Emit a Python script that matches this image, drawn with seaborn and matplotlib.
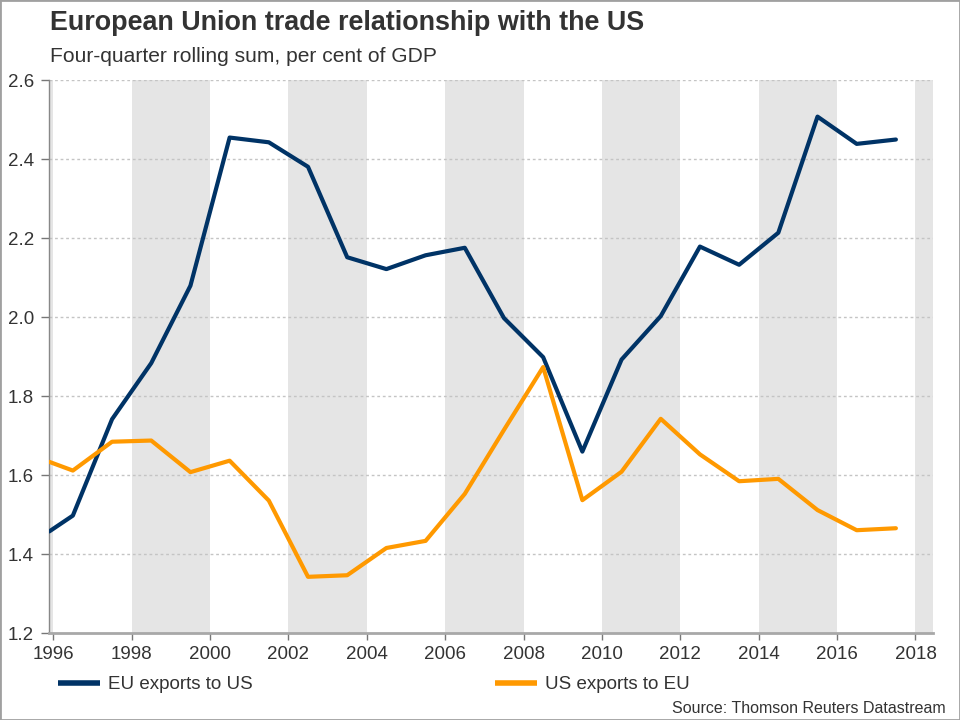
import numpy as np
import pandas as pd
import matplotlib
matplotlib.use("Agg")
import matplotlib.pyplot as plt
import seaborn as sns
from matplotlib.patches import Rectangle

# data (points sit mid-year, first one at the axis start)
years = [1995.9, 1996.5, 1997.5, 1998.5, 1999.5, 2000.5, 2001.5, 2002.5, 2003.5,
         2004.5, 2005.5, 2006.5, 2007.5, 2008.5, 2009.5, 2010.5, 2011.5, 2012.5,
         2013.5, 2014.5, 2015.5, 2016.5, 2017.5]
eu_to_us = [1.458, 1.498, 1.742, 1.884, 2.080, 2.455, 2.443, 2.381, 2.152,
            2.122, 2.157, 2.176, 1.998, 1.899, 1.660, 1.893, 2.003, 2.179,
            2.133, 2.214, 2.508, 2.439, 2.450]
us_to_eu = [1.634, 1.612, 1.685, 1.688, 1.608, 1.637, 1.536, 1.343, 1.347,
            1.416, 1.434, 1.553, 1.715, 1.874, 1.537, 1.609, 1.743, 1.653,
            1.585, 1.591, 1.512, 1.461, 1.466]
series_names = ["EU exports to US", "US exports to EU"]
band_starts = [1994, 1998, 2002, 2006, 2010, 2014, 2018]
x_ticks = [1996, 1998, 2000, 2002, 2004, 2006, 2008, 2010, 2012, 2014, 2016, 2018]
y_ticks = [1.2, 1.4, 1.6, 1.8, 2.0, 2.2, 2.4, 2.6]

df = pd.concat([
    pd.DataFrame({"year": years, "value": eu_to_us, "series": series_names[0]}),
    pd.DataFrame({"year": years, "value": us_to_eu, "series": series_names[1]}),
])

sns.set_theme(style="white")
plt.rcParams["font.family"] = ["Liberation Sans", "DejaVu Sans"]
text_col = "#333333"

fig = plt.figure(figsize=(9.6, 7.2), dpi=100)
ax = fig.add_axes([0.0514, 0.1204, 0.9202, 0.7681])

# shaded two-year bands
for s in band_starts:
    ax.axvspan(s, s + 2, color="#e5e5e5", lw=0, zorder=0)

for y in y_ticks[1:]:
    ax.axhline(y, color="#c4c4c4", lw=1, ls=(0, (2, 2)), zorder=1)

palette = {series_names[0]: "#003366", series_names[1]: "#ff9900"}
sns.lineplot(data=df, x="year", y="value", hue="series", palette=palette,
             lw=3, ax=ax, legend=False, zorder=3)

ax.set_xlim(1995.9, 2018.44)
ax.set_ylim(1.2, 2.6)
ax.set_xticks(x_ticks)
ax.set_yticks(y_ticks)
ax.set_yticklabels([f"{v:.1f}" for v in y_ticks])
ax.set_xlabel("")
ax.set_ylabel("")
ax.tick_params(axis="both", labelsize=13.5, colors="#777777", labelcolor=text_col,
               width=1, direction="out")
ax.tick_params(axis="x", pad=4, length=5)
ax.tick_params(axis="y", pad=5, length=6)
ax.xaxis.set_ticks_position("bottom")
ax.yaxis.set_ticks_position("left")
for side in ["top", "right"]:
    ax.spines[side].set_visible(False)
ax.spines["left"].set_color("#888888")
ax.spines["left"].set_linewidth(1)
ax.spines["bottom"].set_color("#a8a8a8")
ax.spines["bottom"].set_linewidth(2)
ax.set_facecolor("white")

fig.text(0.052, 0.968, "European Union trade relationship with the US",
         fontsize=19.4, fontweight="bold", color=text_col, va="center", ha="left")
fig.text(0.052, 0.922, "Four-quarter rolling sum, per cent of GDP",
         fontsize=15.1, color=text_col, va="center", ha="left")

handles = [plt.Line2D([], [], color=palette[n], lw=4, solid_capstyle="butt")
           for n in series_names]
fig.legend(handles, series_names, loc="center left", bbox_to_anchor=(0.043, 0.049),
           ncol=2, frameon=False, fontsize=13.5, handlelength=2.24, handletextpad=0.43,
           columnspacing=12.9, labelcolor=text_col)

fig.text(0.985, 0.016, "Source: Thomson Reuters Datastream", fontsize=11.5,
         color=text_col, ha="right", va="center")

fig.patches.append(Rectangle((0, 0), 1, 1, transform=fig.transFigure, fill=False,
                             edgecolor="#a0a0a0", lw=2))

fig.savefig("out.png", dpi=100)
